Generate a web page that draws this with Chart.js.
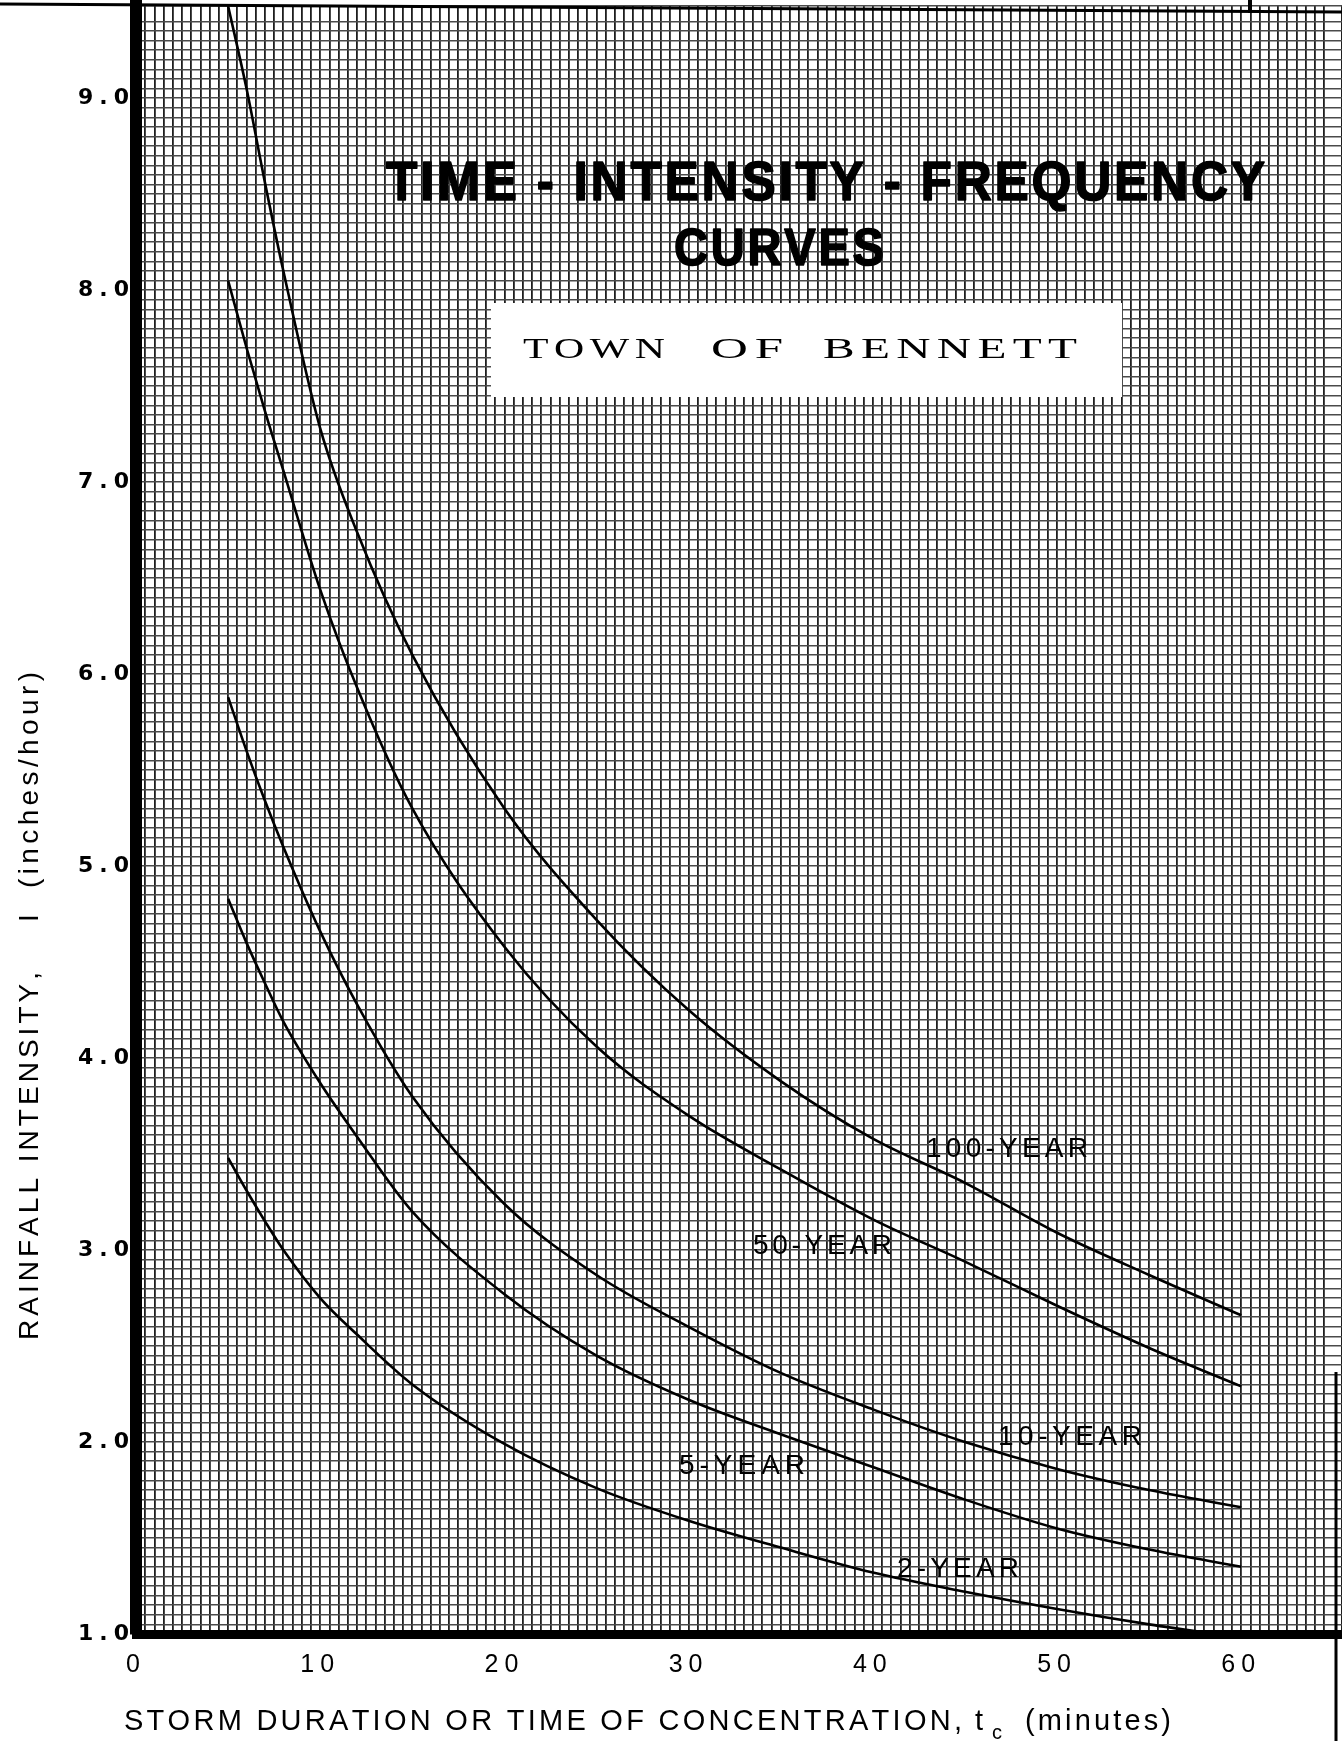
<!DOCTYPE html>
<html><head><meta charset="utf-8">
<script src="https://cdn.jsdelivr.net/npm/chart.js@4.4.1/dist/chart.umd.min.js"></script>
<style>html,body{margin:0;padding:0;background:#fff;}canvas{display:block;}</style>
</head><body>
<canvas id="c" width="1342" height="1741"></canvas>
<script>
// ---- data ----
const durations = [5, 6, 7, 8, 10, 12, 15, 20, 25, 30, 35, 40, 45, 50, 55, 60];
const year100 = [9.48, 9.05, 8.56, 8.10, 7.28, 6.74, 6.10, 5.30, 4.72, 4.25, 3.88, 3.58, 3.35, 3.09, 2.87, 2.66];
const year50  = [8.05, 7.70, 7.37, 7.06, 6.44, 5.93, 5.30, 4.58, 4.06, 3.70, 3.42, 3.16, 2.94, 2.71, 2.49, 2.29];
const year10  = [5.88, 5.60, 5.34, 5.10, 4.66, 4.28, 3.80, 3.24, 2.87, 2.60, 2.36, 2.17, 2.00, 1.86, 1.75, 1.66];
const year5   = [4.83, 4.60, 4.39, 4.19, 3.87, 3.59, 3.20, 2.77, 2.45, 2.22, 2.04, 1.87, 1.70, 1.55, 1.44, 1.35];
const year2   = [3.48, 3.31, 3.15, 3.00, 2.75, 2.56, 2.30, 1.99, 1.76, 1.59, 1.45, 1.32, 1.22, 1.13, 1.05, 0.98];
const seriesNames = ['100-YEAR', '50-YEAR', '10-YEAR', '5-YEAR', '2-YEAR'];
const yTickLabels = ['1.0', '2.0', '3.0', '4.0', '5.0', '6.0', '7.0', '8.0', '9.0'];
const xTickLabels = ['0', '10', '20', '30', '40', '50', '60'];
const titleLines = ['TIME - INTENSITY - FREQUENCY', 'CURVES'];
const subtitleText = 'TOWN OF BENNETT';
const yTitleParts = ['RAINFALL INTENSITY,', 'I', '(inches/hour)'];
const xTitleParts = ['STORM DURATION OR TIME OF CONCENTRATION,', 't', 'c', '(minutes)'];

// ---- layout / style (kept apart from data) ----
const SANS = "'Liberation Sans', Arial, sans-serif";
const NARROW = "'Liberation Sans Narrow', 'Liberation Sans', Arial, sans-serif";
const SERIF = "'Liberation Serif', 'DejaVu Serif', serif";
const TICKFONT = "'DejaVu Sans', 'Liberation Sans', sans-serif";
const curveLabelBoxes = [ // [left, right, baseline] in px
  [926, 1088, 1157], [753, 892, 1254], [998, 1142, 1445], [679, 805, 1474], [897, 1019, 1577]
];

function drawText(ctx, text, left, right, baseline, font, opt) {
  opt = opt || {};
  ctx.font = font;
  const chars = Array.from(text);
  const widths = chars.map(c => ctx.measureText(c).width);
  const natural = widths.reduce((a, b) => a + b, 0);
  const target = right - left;
  let gap = 0, sx = 1;
  if (opt.gap !== undefined) {
    gap = opt.gap;
    sx = target / (natural + gap * (chars.length - 1));
  } else if (chars.length < 2 || natural >= target) {
    sx = target / natural;
  } else {
    gap = (target - natural) / (chars.length - 1);
  }
  ctx.save();
  ctx.translate(left, baseline);
  ctx.scale(sx, 1);
  let x = 0;
  chars.forEach((c, i) => {
    if (opt.stroke) ctx.strokeText(c, x, 0);
    ctx.fillText(c, x, 0);
    x += widths[i] + gap;
  });
  ctx.restore();
}

const deco = {
  id: 'deco',
  beforeDraw(chart) {
    if ('letterSpacing' in chart.ctx) chart.ctx.letterSpacing = '6px';
  },
  afterDraw(chart) {
    const ctx = chart.ctx;
    ctx.save();
    if ('letterSpacing' in ctx) ctx.letterSpacing = '0px';
    ctx.textAlign = 'left';
    ctx.textBaseline = 'alphabetic';

    // white label box
    ctx.fillStyle = '#fff';
    ctx.fillRect(491, 303, 631, 94);

    ctx.fillStyle = '#000';
    ctx.strokeStyle = '#000';
    // title
    ctx.lineWidth = 1.6;
    ctx.lineJoin = 'round';
    drawText(ctx, titleLines[0], 386, 1265, 200, 'bold 56px ' + NARROW, { gap: 3, stroke: true });
    drawText(ctx, titleLines[1], 674, 884, 265, 'bold 52px ' + NARROW, { gap: 3, stroke: true });

    // subtitle words (wide serif)
    const words = subtitleText.split(' ');
    const wordBoxes = [[523, 665], [711, 783], [823, 1077]];
    words.forEach((w, i) => drawText(ctx, w, wordBoxes[i][0], wordBoxes[i][1], 358, '30px ' + SERIF, { gap: 4 }));

    // curve labels
    seriesNames.forEach((n, i) => {
      const b = curveLabelBoxes[i];
      drawText(ctx, n, b[0], b[1], b[2], '28px ' + SANS);
    });

    // y axis title (rotated)
    ctx.save();
    ctx.translate(38, 0);
    ctx.rotate(-Math.PI / 2);
    drawText(ctx, yTitleParts[0], -1340, -972, 0, '28px ' + SANS);
    ctx.font = '28px ' + SANS;
    ctx.fillText(yTitleParts[1], -922, 0);
    drawText(ctx, yTitleParts[2], -888, -672, 0, '28px ' + SANS);
    ctx.restore();

    // x axis title
    drawText(ctx, xTitleParts[0], 124, 962, 1730, '29px ' + SANS);
    ctx.font = '29px ' + SANS;
    ctx.fillText(xTitleParts[1], 975, 1730);
    ctx.font = '20px ' + SANS;
    ctx.fillText(xTitleParts[2], 992, 1739);
    drawText(ctx, xTitleParts[3], 1025, 1171, 1730, '29px ' + SANS);

    // frame lines of the scanned sheet
    ctx.lineWidth = 3;
    ctx.beginPath(); ctx.moveTo(0, 4); ctx.lineTo(1342, 12); ctx.stroke();
    ctx.beginPath(); ctx.moveTo(1336, 1372); ctx.lineTo(1336, 1741); ctx.stroke();
    ctx.lineWidth = 4;
    ctx.beginPath(); ctx.moveTo(1250, 0); ctx.lineTo(1250, 13); ctx.stroke();
    ctx.restore();
  }
};

const series = [year100, year50, year10, year5, year2];
const datasets = series.map((vals, i) => ({
  label: seriesNames[i],
  data: durations.map((t, k) => ({ x: t, y: vals[k] })),
  borderColor: '#000',
  borderWidth: 2.6,
  pointRadius: 0,
  fill: false,
  cubicInterpolationMode: 'monotone'
}));

new Chart(document.getElementById('c'), {
  type: 'line',
  data: { datasets },
  options: {
    responsive: false,
    animation: false,
    devicePixelRatio: 1,
    events: [],
    layout: { padding: { top: 6, right: 0, bottom: 0, left: 0 } },
    plugins: { legend: { display: false }, tooltip: { enabled: false }, title: { display: false } },
    scales: {
      x: {
        type: 'linear', min: 0, max: 65.47,
        ticks: {
          stepSize: 0.5, autoSkip: false, maxRotation: 0, minRotation: 0, padding: 16,
          color: '#000', font: { family: SANS, size: 25 },
          callback: v => {
            const k = Math.round(v);
            return (Math.abs(v - k) < 1e-6 && k % 10 === 0 && k <= 60) ? xTickLabels[k / 10] : '';
          }
        },
        grid: { color: '#1e1e1e', lineWidth: 1.8, drawTicks: false },
        border: { display: true, color: '#000', width: 9 },
        afterFit: s => { s.height = 107; s.paddingLeft = 0; s.paddingRight = 0; }
      },
      y: {
        type: 'linear', min: 1, max: 9.48,
        ticks: {
          stepSize: 0.05, autoSkip: false, padding: 1,
          color: '#000', font: { family: TICKFONT, size: 22, weight: 'bold' },
          callback: v => {
            const k = Math.round(v);
            return (Math.abs(v - k) < 1e-6 && k >= 1 && k <= 9) ? yTickLabels[k - 1] : '';
          }
        },
        grid: { color: '#4a4a4a', lineWidth: 1.5, drawTicks: false },
        border: { display: true, color: '#000', width: 12 },
        afterFit: s => { s.width = 136; s.paddingTop = 0; s.paddingBottom = 0; }
      }
    }
  },
  plugins: [deco]
});
</script>
</body></html>
